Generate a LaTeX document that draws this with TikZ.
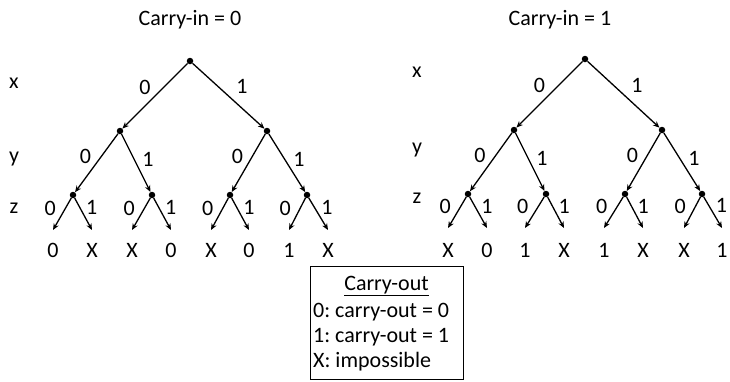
\documentclass[tikz,border=0pt]{standalone}
\usepackage{fontspec}
\setmainfont{Carlito}
\usetikzlibrary{arrows.meta,positioning}
\frenchspacing

\begin{document}
\begin{tikzpicture}[x=1pt,y=-1pt,every node/.style={font=\fontsize{22}{25}\selectfont}]
\tikzstyle{lab}=[inner sep=0pt,text height=14pt,text depth=0pt]
\tikzstyle{dot}=[circle,fill=black,inner sep=0pt,minimum size=6.5pt]
\tikzstyle{arr}=[-{Stealth[length=6.5pt,width=5.5pt]},line width=1.3pt]
\tikzstyle{top0}=[lab,midway,xshift=-10pt,yshift=9pt]
\tikzstyle{top1}=[lab,midway,xshift=13.5pt,yshift=9.5pt]
\tikzstyle{mid0}=[lab,midway,xshift=-11pt,yshift=6.5pt]
\tikzstyle{mid1}=[lab,midway,xshift=12pt,yshift=4pt]
\tikzstyle{bot0}=[lab,midway,xshift=-12pt,yshift=6pt]
\tikzstyle{bot1}=[lab,midway,xshift=8.5pt,yshift=6.5pt]
\useasboundingbox (0,0) rectangle (730,381);
% carry-in = 0
\node[lab] (titleL) at (190,18) {Carry-in = 0};
\node[lab] (rowxL) at (14,81) {x};
\node[lab] (rowyL) at (14,155) {y};
\node[lab] (rowzL) at (14,206) {z};
\node[dot] (rootL) at (190,61) {};
\node[dot] (yL0) at (120,131) {};
\node[dot] (yL1) at (267,131) {};
\node[dot] (zL00) at (73,195) {};
\node[dot] (zL01) at (152,195) {};
\node[dot] (zL10) at (230,195) {};
\node[dot] (zL11) at (307,195) {};
\coordinate (fL1) at (53,230);
\coordinate (fL2) at (92,230);
\coordinate (fL3) at (132,230);
\coordinate (fL4) at (171,230);
\coordinate (fL5) at (211,230);
\coordinate (fL6) at (249,230);
\coordinate (fL7) at (289,230);
\coordinate (fL8) at (328,230);
\draw[arr] (rootL)--node[top0] (eL1) {0} (yL0);
\draw[arr] (rootL)--node[top1] (eL2) {1} (yL1);
\draw[arr] (yL0)--node[mid0] (eL3) {0} (zL00);
\draw[arr] (yL0)--node[mid1] (eL4) {1} (zL01);
\draw[arr] (yL1)--node[mid0] (eL5) {0} (zL10);
\draw[arr] (yL1)--node[mid1] (eL6) {1} (zL11);
\draw[arr] (zL00)--node[bot0] (eL7) {0} (fL1);
\draw[arr] (zL00)--node[bot1] (eL8) {1} (fL2);
\draw[arr] (zL01)--node[bot0] (eL9) {0} (fL3);
\draw[arr] (zL01)--node[bot1] (eL10) {1} (fL4);
\draw[arr] (zL10)--node[bot0] (eL11) {0} (fL5);
\draw[arr] (zL10)--node[bot1] (eL12) {1} (fL6);
\draw[arr] (zL11)--node[bot0] (eL13) {0} (fL7);
\draw[arr] (zL11)--node[bot1] (eL14) {1} (fL8);
\node[lab] (oL1) at (53,250) {0};
\node[lab] (oL2) at (92,250) {X};
\node[lab] (oL3) at (132,250) {X};
\node[lab] (oL4) at (171,250) {0};
\node[lab] (oL5) at (211,250) {X};
\node[lab] (oL6) at (249,250) {0};
\node[lab] (oL7) at (289,250) {1};
\node[lab] (oL8) at (328,250) {X};
% carry-in = 1
\node[lab] (titleR) at (560,18) {Carry-in = 1};
\node[lab] (rowxR) at (417,70) {x};
\node[lab] (rowyR) at (417,146) {y};
\node[lab] (rowzR) at (417,196) {z};
\node[dot] (rootR) at (585,59) {};
\node[dot] (yR0) at (514,130) {};
\node[dot] (yR1) at (662,130) {};
\node[dot] (zR00) at (468,194) {};
\node[dot] (zR01) at (546,194) {};
\node[dot] (zR10) at (625,194) {};
\node[dot] (zR11) at (702,194) {};
\coordinate (fR1) at (448,228);
\coordinate (fR2) at (487,228);
\coordinate (fR3) at (525,228);
\coordinate (fR4) at (564,228);
\coordinate (fR5) at (604,228);
\coordinate (fR6) at (643,228);
\coordinate (fR7) at (684,228);
\coordinate (fR8) at (722,228);
\draw[arr] (rootR)--node[top0] (eR1) {0} (yR0);
\draw[arr] (rootR)--node[top1] (eR2) {1} (yR1);
\draw[arr] (yR0)--node[mid0] (eR3) {0} (zR00);
\draw[arr] (yR0)--node[mid1] (eR4) {1} (zR01);
\draw[arr] (yR1)--node[mid0] (eR5) {0} (zR10);
\draw[arr] (yR1)--node[mid1] (eR6) {1} (zR11);
\draw[arr] (zR00)--node[bot0] (eR7) {0} (fR1);
\draw[arr] (zR00)--node[bot1] (eR8) {1} (fR2);
\draw[arr] (zR01)--node[bot0] (eR9) {0} (fR3);
\draw[arr] (zR01)--node[bot1] (eR10) {1} (fR4);
\draw[arr] (zR10)--node[bot0] (eR11) {0} (fR5);
\draw[arr] (zR10)--node[bot1] (eR12) {1} (fR6);
\draw[arr] (zR11)--node[bot0] (eR13) {0} (fR7);
\draw[arr] (zR11)--node[bot1] (eR14) {1} (fR8);
\node[lab] (oR1) at (448,250) {X};
\node[lab] (oR2) at (487,250) {0};
\node[lab] (oR3) at (525,250) {1};
\node[lab] (oR4) at (564,250) {X};
\node[lab] (oR5) at (604,250) {1};
\node[lab] (oR6) at (643,250) {X};
\node[lab] (oR7) at (684,250) {X};
\node[lab] (oR8) at (722,250) {1};
% legend
\node[draw,line width=0.9pt,inner sep=0pt,minimum width=153pt,minimum height=113pt] (key) at (386.5,322.5) {};
\node[lab] (keyhead) at (386.5,283) {\underline{Carry-out}};
\node[lab,anchor=west] (key0) at (313,310) {0: carry-out = 0};
\node[lab,anchor=west] (key1) at (313,335) {1: carry-out = 1};
\node[lab,anchor=west] (keyx) at (313,360) {X: impossible};
\end{tikzpicture}
\end{document}
